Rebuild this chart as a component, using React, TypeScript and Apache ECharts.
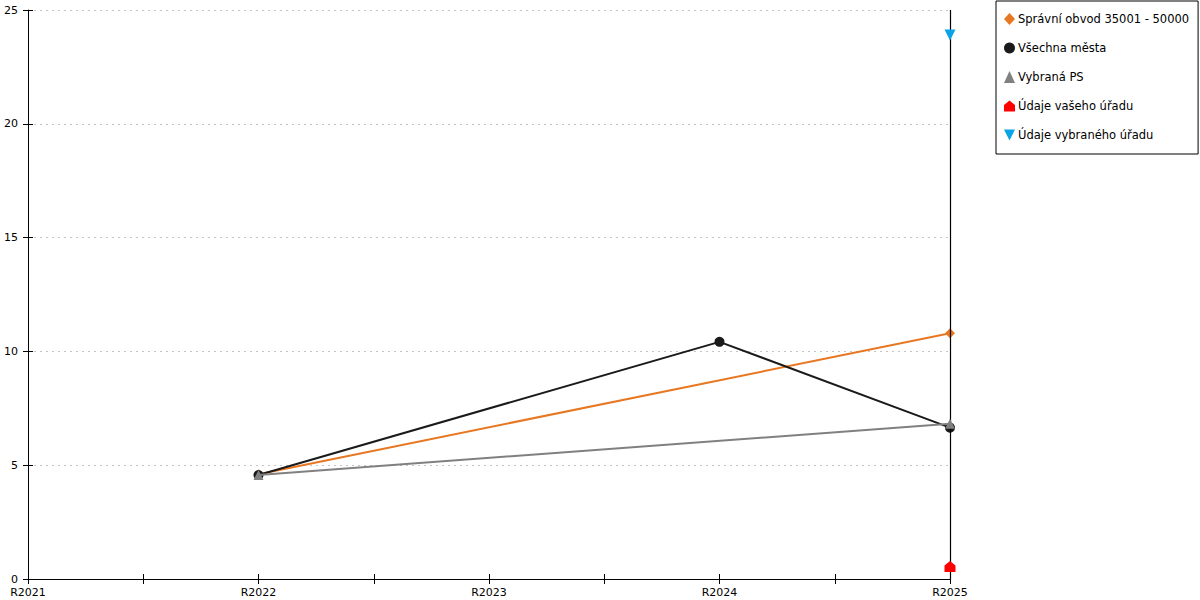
import React, { useEffect, useRef } from "react";
import * as echarts from "echarts";

const years = [2021, 2022, 2023, 2024, 2025];
const yTicks = [0, 5, 10, 15, 20, 25];

const spravniX = [2022, 2025];
const spravniY = [4.6, 10.8];
const mestaX = [2022, 2024, 2025];
const mestaY = [4.57, 10.42, 6.65];
const psX = [2022, 2025];
const psY = [4.57, 6.82];
const vasX = [2025];
const vasY = [0.55];
const vybranyX = [2025];
const vybranyY = [23.9];

const names = [
  "Správní obvod 35001 - 50000",
  "Všechna města",
  "Vybraná PS",
  "Údaje vašeho úřadu",
  "Údaje vybraného úřadu",
];
const colors = ["#E87722", "#1a1a1a", "#808080", "#FF0000", "#0AA3E6"];
const HOUSE = "path://M0,10 L0,4 L5,0 L10,4 L10,10 Z";
const DOWN = "path://M0,0 L10,0 L5,10 Z";
const symbols = ["diamond", "circle", "triangle", HOUSE, DOWN];

const pairs = (xs: number[], ys: number[]) => xs.map((x, i) => [x, ys[i]]);

export default function App() {
  const ref = useRef<HTMLDivElement>(null);
  useEffect(() => {
    if (!ref.current) return;
    const chart = echarts.init(ref.current, undefined, { renderer: "svg" });
    const font = "DejaVu Sans";
    const xs = [spravniX, mestaX, psX, vasX, vybranyX];
    const ys = [spravniY, mestaY, psY, vasY, vybranyY];
    const series: any[] = names.map((n, i) => ({
      name: n,
      type: "line",
      data: pairs(xs[i], ys[i]),
      symbol: symbols[i],
      symbolSize: i >= 3 ? 11 : 10,
      showSymbol: true,
      itemStyle: { color: colors[i] },
      lineStyle: { color: colors[i], width: 2 },
      z: 3 + i,
    }));
    series[0].markLine = {
      silent: true,
      symbol: "none",
      label: { show: false },
      lineStyle: { color: "#000", width: 1.2, type: "solid" },
      data: [{ xAxis: 2025 }],
    };
    const axisCommon = {
      type: "value",
      min: years[0],
      max: years[years.length - 1],
      interval: 0.5,
    };
    const yCommon = {
      type: "value",
      min: yTicks[0],
      max: yTicks[yTicks.length - 1],
      interval: yTicks[1] - yTicks[0],
    };
    chart.setOption({
      animation: false,
      grid: { left: 28, right: 250, top: 10, bottom: 21, containLabel: false },
      legend: {
        orient: "vertical",
        left: 996,
        top: 1,
        padding: [12, 9, 13, 8],
        itemGap: 17,
        itemWidth: 11,
        itemHeight: 12,
        borderColor: "#000",
        borderWidth: 1,
        textStyle: { fontFamily: font, fontSize: 11.5, color: "#000", padding: [0, 0, 0, -2] },
        data: names.map((n, i) => ({ name: n, icon: symbols[i], itemStyle: { color: colors[i] } })),
      },
      xAxis: [
        {
          ...axisCommon,
          position: "bottom",
          axisLine: { show: true, lineStyle: { color: "#000", width: 1 } },
          axisTick: { show: true, length: 5, lineStyle: { color: "#000" } },
          axisLabel: {
            margin: 8,
            fontFamily: font,
            fontSize: 11,
            color: "#000",
            showMinLabel: true,
            showMaxLabel: true,
            formatter: (v: number) => (Number.isInteger(v) ? "R" + v : ""),
          },
          splitLine: { show: false },
        },
        {
          ...axisCommon,
          position: "bottom",
          axisLine: { show: false },
          axisTick: { show: true, inside: true, length: 5, lineStyle: { color: "#000" } },
          axisLabel: { show: false },
          splitLine: { show: false },
        },
      ],
      yAxis: [
        {
          ...yCommon,
          position: "left",
          axisLine: { show: true, lineStyle: { color: "#000", width: 1 } },
          axisTick: { show: true, length: 5, lineStyle: { color: "#000" } },
          axisLabel: { margin: 10, fontFamily: font, fontSize: 11, color: "#000" },
          splitLine: { show: true, lineStyle: { color: "#c4c4c4", type: [2, 4], width: 1 } },
        },
        {
          ...yCommon,
          position: "left",
          axisLine: { show: false },
          axisTick: { show: true, inside: true, length: 5, lineStyle: { color: "#000" } },
          axisLabel: { show: false },
          splitLine: { show: false },
        },
      ],
      series,
    });
    return () => chart.dispose();
  }, []);
  return <div ref={ref} style={{ width: 1200, height: 600, position: "absolute", left: 0, top: 0 }} />;
}
